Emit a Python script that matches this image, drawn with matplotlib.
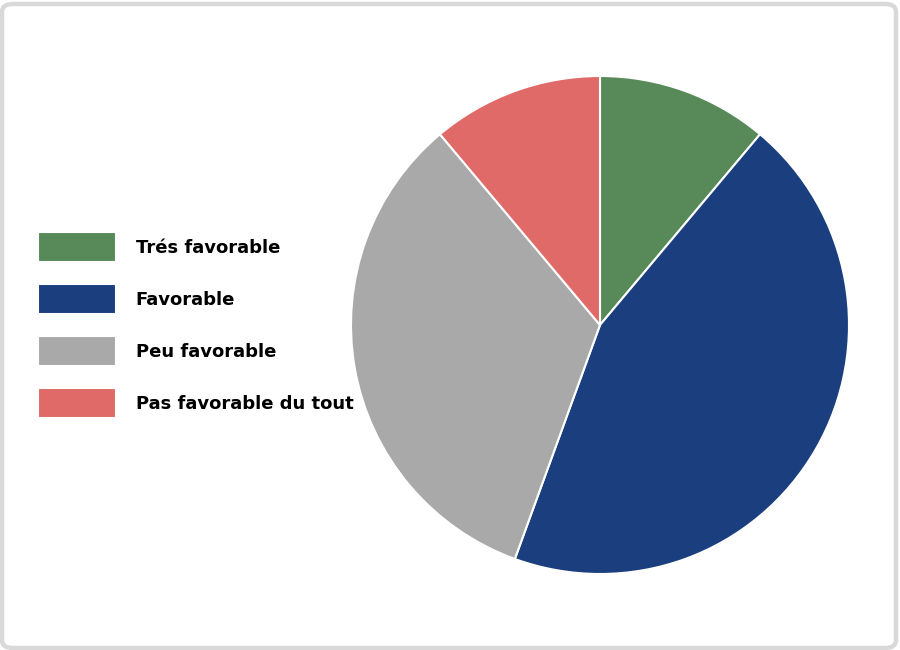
import matplotlib
matplotlib.use("Agg")
import matplotlib.pyplot as plt
from matplotlib.patches import FancyBboxPatch

categories = ["Trés favorable", "Favorable", "Peu favorable", "Pas favorable du tout"]
values = [1, 4, 3, 1]
colors = ["#578A58", "#1A3E7E", "#A9A9A9", "#E06A67"]

W, H = 900, 650
fig = plt.figure(figsize=(9, 6.5), dpi=100)
fig.patch.set_facecolor("white")

# rounded frame
frame = FancyBboxPatch((2 / W, 2 / H), (W - 6) / W, (H - 6) / H,
                       boxstyle="round,pad=0,rounding_size=0.012",
                       transform=fig.transFigure, facecolor="none",
                       edgecolor="#D9D9D9", linewidth=3.2, zorder=-1)
fig.patches.append(frame)

cx, cy, r = 600, 325, 249
ax = fig.add_axes([(cx - r) / W, (H - cy - r) / H, 2 * r / W, 2 * r / H])
wedges, _ = ax.pie(values, colors=colors, startangle=90, counterclock=False,
                   wedgeprops=dict(edgecolor="white", linewidth=1.5))
ax.set_xlim(-1, 1)
ax.set_ylim(-1, 1)
ax.set_aspect("equal")
ax.axis("off")

fs = 13
fig.legend(wedges, categories, loc="center left",
           bbox_to_anchor=(31 / W, (H - 325) / H),
           frameon=False,
           prop=dict(family="DejaVu Sans", weight="bold", size=fs),
           handlelength=4.3, handleheight=2.2, labelspacing=1.2,
           handletextpad=1.1, borderaxespad=0)

fig.savefig("out.png", dpi=100, facecolor="white")
